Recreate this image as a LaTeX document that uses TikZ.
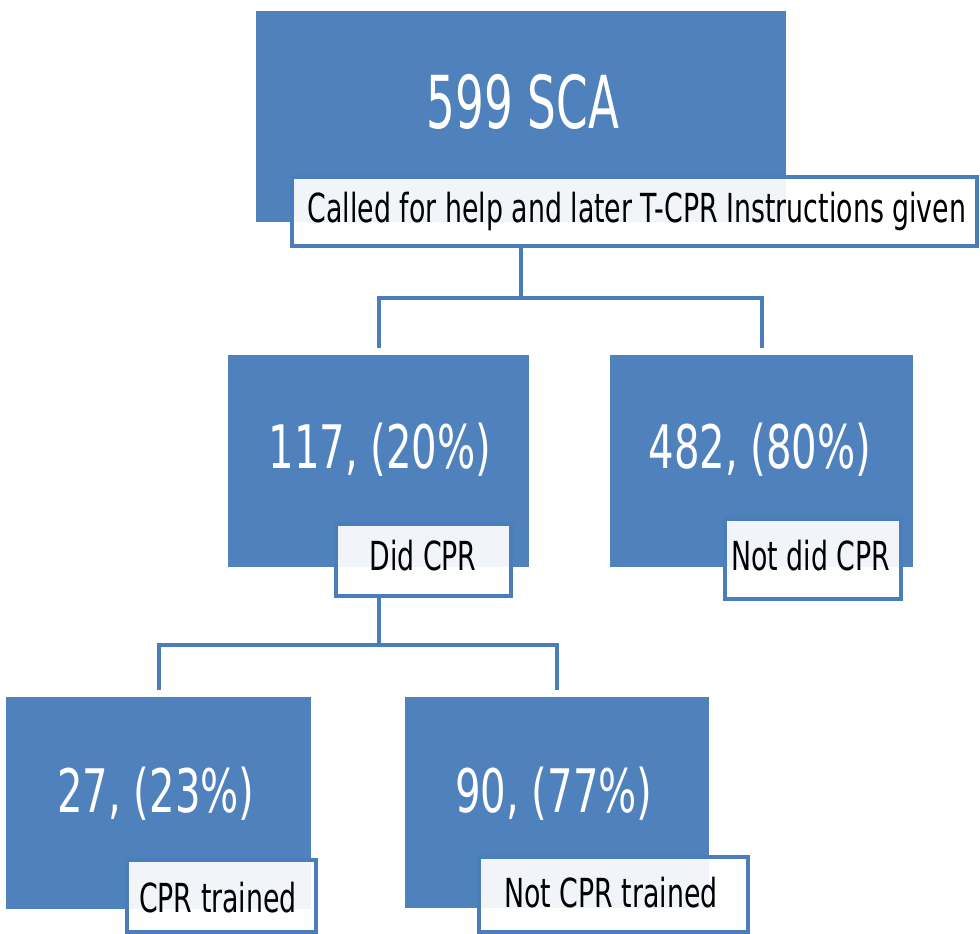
\documentclass[tikz,border=0pt]{standalone}
\usepackage{fontspec}
\setmainfont[FakeStretch=0.67]{DejaVu Sans}
\newfontfamily\bigfont[FakeStretch=0.62]{DejaVu Sans}
\definecolor{boxblue}{HTML}{4F81BD}
\definecolor{lineblue}{HTML}{4A7EBB}
\begin{document}
\begin{tikzpicture}[x=1pt,y=-1pt,
  bluebox/.style={fill=boxblue,draw=none},
  labelbox/.style={draw=lineblue,line width=3.5pt,fill=white,fill opacity=0.92},
  conn/.style={draw=lineblue,line width=4pt},
  bigtext/.style={text=white,anchor=base,inner sep=0pt,font=\bigfont\fontsize{73}{80}\selectfont},
  numtext/.style={text=white,anchor=base,inner sep=0pt,font=\fontsize{60}{66}\selectfont},
  labtext/.style={text=black,anchor=base,inner sep=0pt,font=\fontsize{40}{44}\selectfont}]
\useasboundingbox (0,0) rectangle (980,934);
% blue boxes
\path[bluebox] (256,11) rectangle (786,222);
\node[inner sep=0pt,minimum width=530pt,minimum height=211pt] (top) at (521,116.5) {};
\path[bluebox] (228,355) rectangle (529,567);
\node[inner sep=0pt,minimum width=301pt,minimum height=212pt] (b1) at (378.5,461) {};
\path[bluebox] (610,355) rectangle (913,567);
\node[inner sep=0pt,minimum width=303pt,minimum height=212pt] (b2) at (761.5,461) {};
\path[bluebox] (6,697) rectangle (311,909);
\node[inner sep=0pt,minimum width=305pt,minimum height=212pt] (c1) at (158.5,803) {};
\path[bluebox] (405,697) rectangle (709,908);
\node[inner sep=0pt,minimum width=304pt,minimum height=211pt] (c2) at (557,802.5) {};
% label boxes
\path[labelbox] (292,177) rectangle (977,246);
\node[inner sep=0pt,minimum width=685pt,minimum height=69pt] (l0) at (634.5,211.5) {};
\path[labelbox] (336,524) rectangle (511,596);
\node[inner sep=0pt,minimum width=175pt,minimum height=72pt] (l1) at (423.5,560) {};
\path[labelbox] (725,519) rectangle (901,599);
\node[inner sep=0pt,minimum width=176pt,minimum height=80pt] (l2) at (813,559) {};
\path[labelbox] (127,860) rectangle (316,932);
\node[inner sep=0pt,minimum width=189pt,minimum height=72pt] (l3) at (221.5,896) {};
\path[labelbox] (479,857) rectangle (748,932);
\node[inner sep=0pt,minimum width=269pt,minimum height=75pt] (l4) at (613.5,894.5) {};
% texts
\node[bigtext] (t0) at (523,128) {599 SCA};
\node[labtext] (tl0) at (637,222) {Called for help and later T-CPR Instructions given};
\node[numtext] (t1) at (380,468) {117, (20\%)};
\node[numtext] (t2) at (760,468) {482, (80\%)};
\node[labtext] (tl1) at (423,570) {Did CPR};
\node[labtext] (tl2) at (811,570) {Not did CPR};
\node[numtext] (t3) at (156,812) {27, (23\%)};
\node[numtext] (t4) at (554,812) {90, (77\%)};
\node[labtext] (tl3) at (218,912) {CPR trained};
\node[labtext] (tl4) at (611,907) {Not CPR trained};
% connectors
\coordinate (j0) at (521,298);
\draw[conn] (l0.south -| j0) -- (j0);
\draw[conn] ([yshift=7pt]b1.north) |- (j0) -| ([yshift=7pt]b2.north);
\coordinate (j1) at (378.5,645);
\draw[conn] (l1.south -| j1) -- (j1);
\draw[conn] ([yshift=7pt]c1.north) |- (j1) -| ([yshift=7pt]c2.north);
\end{tikzpicture}
\end{document}
